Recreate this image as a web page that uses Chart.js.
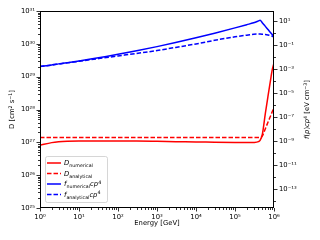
<!DOCTYPE html>
<html><head><meta charset="utf-8">
<script src="https://cdn.jsdelivr.net/npm/chart.js@4/dist/chart.umd.min.js"></script>
<style>html,body{margin:0;padding:0;background:#fff}#c{display:block}</style>
</head><body>
<canvas id="c" width="320" height="240"></canvas>
<script>
// ---- data ----
const energy = [1, 2, 3, 5, 10, 20, 50, 100, 300, 1e3, 3e3, 1e4, 3e4, 1e5, 2e5, 3e5, 4e5, 4.4e5, 5e5, 6e5, 7e5, 8e5, 9e5, 1e6];
const dNumerical = [8.2e26, 9.8e26, 1.04e27, 1.08e27, 1.1e27, 1.1e27, 1.1e27, 1.1e27, 1.09e27, 1.07e27, 1.05e27, 1.03e27, 1.01e27, 9.9e26, 9.8e26, 9.9e26, 1.05e27, 1.15e27, 1.7e27, 7.6e27, 2.5e28, 6.8e28, 1.6e29, 2.6e29];
const dAnalytical = [1.4e27, 1.4e27, 1.4e27, 1.4e27, 1.4e27, 1.4e27, 1.4e27, 1.4e27, 1.4e27, 1.4e27, 1.4e27, 1.4e27, 1.4e27, 1.4e27, 1.4e27, 1.4e27, 1.4e27, 1.42e27, 1.55e27, 2.6e27, 4.1e27, 6.0e27, 8.5e27, 1.2e28];
const fNumerical = [1.58e-3, 2.1e-3, 2.55e-3, 3.23e-3, 4.52e-3, 6.46e-3, 1.07e-2, 1.6e-2, 3.15e-2, 7.0e-2, 0.152, 0.378, 0.914, 2.54, 4.7, 6.79, 9.8, 11.2, 6.8, 3.4, 1.86, 1.12, 0.71, 0.47];
const fAnalytical = [1.51e-3, 2.04e-3, 2.45e-3, 3.09e-3, 4.17e-3, 5.69e-3, 8.5e-3, 1.16e-2, 1.9e-2, 3.3e-2, 6.0e-2, 0.117, 0.234, 0.46, 0.63, 0.74, 0.78, 0.78, 0.76, 0.71, 0.65, 0.59, 0.52, 0.47];
const xTicks = [1, 10, 100, 1e3, 1e4, 1e5, 1e6];
const leftTicks = [1e25, 1e26, 1e27, 1e28, 1e29, 1e30, 1e31];
const rightTicks = [1e-13, 1e-11, 1e-9, 1e-7, 1e-5, 1e-3, 1e-1, 1e1];

const SUP = {'0':'⁰','1':'¹','2':'²','3':'³','4':'⁴','5':'⁵','6':'⁶','7':'⁷','8':'⁸','9':'⁹','-':'⁻'};
const powLabel = v => '10' + String(Math.round(Math.log10(v))).split('').map(c => SUP[c]).join('');
const FS = 6.8;
const FONT = '"DejaVu Sans"';
const N = FS + 'px ' + FONT, I = 'italic ' + FS + 'px ' + FONT, S = (FS * 0.7) + 'px ' + FONT;

function pts(arr){ return energy.map((e, i) => ({x: e, y: arr[i]})); }

function drawRich(ctx, segs, cx, cy, rot, align){
  ctx.save();
  ctx.translate(cx, cy); ctx.rotate(rot || 0);
  let total = 0;
  segs.forEach(s => { ctx.font = s.f; s.w = ctx.measureText(s.t).width; total += s.w; });
  let x = align === 'left' ? 0 : -total / 2;
  ctx.textBaseline = 'alphabetic'; ctx.textAlign = 'left'; ctx.fillStyle = '#000';
  segs.forEach(s => { ctx.font = s.f; ctx.fillText(s.t, x, 2.4 + (s.dy || 0)); x += s.w; });
  ctx.restore();
}

const deco = {
  id: 'deco',
  afterDatasetsDraw(chart){
    const {ctx, chartArea: a, scales} = chart;
    ctx.save();
    // frame
    ctx.strokeStyle = '#000'; ctx.lineWidth = 1;
    ctx.strokeRect(Math.round(a.left) + 0.5, Math.round(a.top) + 0.5, Math.round(a.right - a.left) - 1, Math.round(a.bottom - a.top) - 1);
    // ticks
    ctx.lineWidth = 0.8;
    ctx.beginPath();
    const xs = scales.x, yl = scales.y, yr = scales.y2;
    for (let n = 0; n <= 6; n++) for (let m = 1; m <= 9; m++) {
      const v = m * Math.pow(10, n); if (v > 1e6) break;
      const px = Math.round(xs.getPixelForValue(v)) + 0.5, L = m === 1 ? 3.5 : 2;
      ctx.moveTo(px, a.bottom); ctx.lineTo(px, a.bottom + L);
    }
    for (let n = 25; n <= 31; n++) for (let m = 1; m <= 9; m++) {
      const v = m * Math.pow(10, n); if (v > 1.0001e31) break;
      const py = Math.round(yl.getPixelForValue(v)) + 0.5, L = m === 1 ? 3.5 : 2;
      ctx.moveTo(a.left, py); ctx.lineTo(a.left - L, py);
    }
    for (let n = -14; n <= 1; n++) {
      const py = Math.round(yr.getPixelForValue(Math.pow(10, n))) + 0.5, L = (n % 2 !== 0) ? 3.5 : 2;
      ctx.moveTo(a.right, py); ctx.lineTo(a.right + L, py);
    }
    ctx.stroke();
    // axis titles
    drawRich(ctx, [{t: 'Energy [GeV]', f: N}], (a.left + a.right) / 2, 223, 0);
    drawRich(ctx, [{t: 'D [cm', f: N}, {t: '2', f: S, dy: -2.6}, {t: ' s', f: N}, {t: '−1', f: S, dy: -2.6}, {t: ']', f: N}], 12, (a.top + a.bottom) / 2, -Math.PI / 2);
    drawRich(ctx, [{t: 'f', f: I}, {t: '(', f: N}, {t: 'p', f: I}, {t: ')', f: N}, {t: 'cp', f: I}, {t: '4', f: S, dy: -2.6}, {t: ' [eV cm', f: N}, {t: '−3', f: S, dy: -2.6}, {t: ']', f: N}], 307, (a.top + a.bottom) / 2, -Math.PI / 2);
    // legend
    const lx = 45.5, ly = 156.5, lw = 62, lh = 46, r = 2;
    ctx.beginPath();
    ctx.moveTo(lx + r, ly); ctx.lineTo(lx + lw - r, ly); ctx.quadraticCurveTo(lx + lw, ly, lx + lw, ly + r);
    ctx.lineTo(lx + lw, ly + lh - r); ctx.quadraticCurveTo(lx + lw, ly + lh, lx + lw - r, ly + lh);
    ctx.lineTo(lx + r, ly + lh); ctx.quadraticCurveTo(lx, ly + lh, lx, ly + lh - r);
    ctx.lineTo(lx, ly + r); ctx.quadraticCurveTo(lx, ly, lx + r, ly); ctx.closePath();
    ctx.fillStyle = 'rgba(255,255,255,0.8)'; ctx.fill();
    ctx.strokeStyle = '#cccccc'; ctx.lineWidth = 0.8; ctx.stroke();
    const rows = [
      {c: '#ff0000', d: [], segs: [{t: 'D', f: I}, {t: 'numerical', f: S, dy: 1.6}]},
      {c: '#ff0000', d: [4.5, 2], segs: [{t: 'D', f: I}, {t: 'analytical', f: S, dy: 1.6}]},
      {c: '#0000ff', d: [], segs: [{t: 'f', f: I}, {t: 'numerical', f: S, dy: 1.6}, {t: 'cp', f: I}, {t: '4', f: S, dy: -2.6}]},
      {c: '#0000ff', d: [4.5, 2], segs: [{t: 'f', f: I}, {t: 'analytical', f: S, dy: 1.6}, {t: 'cp', f: I}, {t: '4', f: S, dy: -2.6}]}
    ];
    rows.forEach((row, i) => {
      const y = 163 + i * 10.5;
      ctx.save();
      ctx.strokeStyle = row.c; ctx.lineWidth = 1.5; ctx.setLineDash(row.d);
      ctx.beginPath(); ctx.moveTo(47, y); ctx.lineTo(61, y); ctx.stroke();
      ctx.restore();
      drawRich(ctx, row.segs, 64, y, 0, 'left');
    });
    ctx.restore();
  }
};

const tickFont = {family: FONT, size: FS};
function logAxis(pos, mn, mx, tickList, fit){
  return {
    type: 'logarithmic', position: pos, min: mn, max: mx,
    afterBuildTicks: s => { s.ticks = tickList.map(v => ({value: v})); },
    ticks: {callback: v => powLabel(v), autoSkip: false, maxRotation: 0, padding: 5, font: tickFont, color: '#000'},
    grid: {display: false, drawTicks: false},
    border: {display: false},
    afterFit: fit
  };
}

new Chart(document.getElementById('c'), {
  type: 'line',
  data: {datasets: [
    {label: 'D numerical', data: pts(dNumerical), borderColor: '#ff0000', yAxisID: 'y'},
    {label: 'D analytical', data: pts(dAnalytical), borderColor: '#ff0000', borderDash: [4.5, 2], yAxisID: 'y'},
    {label: 'f numerical cp^4', data: pts(fNumerical), borderColor: '#0000ff', yAxisID: 'y2'},
    {label: 'f analytical cp^4', data: pts(fAnalytical), borderColor: '#0000ff', borderDash: [4.5, 2], yAxisID: 'y2'}
  ]},
  options: {
    responsive: false, animation: false, devicePixelRatio: 1,
    layout: {padding: {top: 11, left: 0, right: 0, bottom: 0}},
    plugins: {legend: {display: false}, tooltip: {enabled: false}},
    elements: {point: {radius: 0}, line: {borderWidth: 1.5, fill: false, cubicInterpolationMode: 'monotone'}},
    scales: {
      x: logAxis('bottom', 1, 1e6, xTicks, s => { s.height = 32; }),
      y: logAxis('left', 1e25, 1e31, leftTicks, s => { s.width = 40; }),
      y2: logAxis('right', 2.5e-15, 65, rightTicks, s => { s.width = 46; })
    }
  },
  plugins: [deco]
});
</script>
</body></html>
